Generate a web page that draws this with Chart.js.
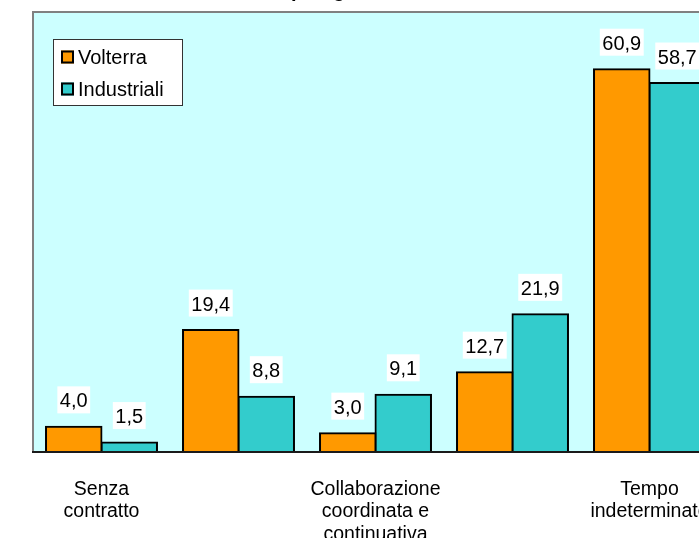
<!DOCTYPE html>
<html>
<head>
<meta charset="utf-8">
<script src="https://cdn.jsdelivr.net/npm/chart.js@4.4.1/dist/chart.umd.min.js"></script>
<style>
  html, body { margin: 0; padding: 0; background: #fff; overflow: hidden; }
  #wrap { position: relative; width: 699px; height: 538px; overflow: hidden; background: #fff; }
  #chart { position: absolute; left: 0; top: -24px; }
</style>
</head>
<body>
<div id="wrap"><canvas id="chart" width="752" height="562"></canvas></div>
<script>
// ---- data ----
const titleText = 'Tipologia di contratto'
const categories = [
  ['Senza', 'contratto'],
  ['Tempo', 'determinato'],
  ['Collaborazione', 'coordinata e', 'continuativa'],
  ['Apprendistato'],
  ['Tempo', 'indeterminato'],
]
const volterra = [4.0, 19.4, 3.0, 12.7, 60.9]
const industriali = [1.5, 8.8, 9.1, 21.9, 58.7]
const seriesNames = ['Volterra', 'Industriali']

const FONT = '"Liberation Sans", Arial, sans-serif'
Chart.defaults.font.family = FONT
Chart.defaults.color = '#000'

// ---- plugins ----
const plotFrame = {
  id: 'plotFrame',
  beforeDatasetsDraw(chart) {
    const { ctx, chartArea: a } = chart
    ctx.save()
    ctx.fillStyle = '#CCFFFF'
    ctx.fillRect(a.left, a.top, a.right - a.left, a.bottom - a.top)
    ctx.strokeStyle = '#808080'
    ctx.lineWidth = 2
    ctx.beginPath()
    ctx.moveTo(a.left, a.bottom)
    ctx.lineTo(a.left, a.top)
    ctx.lineTo(a.right, a.top)
    ctx.lineTo(a.right, a.bottom)
    ctx.stroke()
    ctx.restore()
  },
  afterDatasetsDraw(chart) {
    const { ctx, chartArea: a } = chart
    ctx.save()
    ctx.strokeStyle = '#1a1a1a'
    ctx.lineWidth = 2
    ctx.beginPath()
    ctx.moveTo(a.left - 1, a.bottom)
    ctx.lineTo(a.right + 1, a.bottom)
    ctx.stroke()
    ctx.restore()
  },
}

const valueLabels = {
  id: 'valueLabels',
  afterDatasetsDraw(chart) {
    const { ctx } = chart
    ctx.save()
    ctx.font = '20px ' + FONT
    ctx.textAlign = 'center'
    ctx.textBaseline = 'alphabetic'
    chart.data.datasets.forEach((ds, i) => {
      chart.getDatasetMeta(i).data.forEach((bar, j) => {
        const txt = ds.data[j].toFixed(1).replace('.', ',')
        const w = ctx.measureText(txt).width + 5
        const bottom = bar.y - 13.5
        ctx.fillStyle = '#fff'
        ctx.fillRect(bar.x - w / 2, bottom - 27, w, 27)
        ctx.fillStyle = '#000'
        ctx.fillText(txt, bar.x, bar.y - 19.5)
      })
    })
    ctx.restore()
  },
}

const boxLegend = {
  id: 'boxLegend',
  afterDraw(chart) {
    const { ctx } = chart
    const x = 53, y = 63, w = 130, h = 67
    ctx.save()
    ctx.fillStyle = '#fff'
    ctx.fillRect(x, y, w, h)
    ctx.strokeStyle = '#333'
    ctx.lineWidth = 1
    ctx.strokeRect(x + 0.5, y + 0.5, w - 1, h - 1)
    ctx.font = '20px ' + FONT
    ctx.textBaseline = 'middle'
    chart.data.datasets.forEach((ds, i) => {
      const cy = y + 18 + i * 32
      ctx.fillStyle = ds.backgroundColor
      ctx.fillRect(x + 8, cy - 6.5, 13, 13)
      ctx.strokeStyle = '#000'
      ctx.lineWidth = 2
      ctx.strokeRect(x + 9, cy - 5.5, 11, 11)
      ctx.fillStyle = '#000'
      ctx.fillText(ds.label, x + 25, cy + 1)
    })
    ctx.restore()
  },
}

// ---- chart ----
new Chart(document.getElementById('chart').getContext('2d'), {
  type: 'bar',
  data: {
    labels: categories,
    datasets: [
      {
        label: seriesNames[0],
        data: volterra,
        backgroundColor: '#FF9900',
        borderColor: '#000',
        borderWidth: 2,
        borderSkipped: false,
        inflateAmount: 1,
      },
      {
        label: seriesNames[1],
        data: industriali,
        backgroundColor: '#33CCCC',
        borderColor: '#000',
        borderWidth: 2,
        borderSkipped: false,
        inflateAmount: 1,
      },
    ],
  },
  options: {
    responsive: false,
    animation: false,
    datasets: { bar: { categoryPercentage: 0.81, barPercentage: 1 } },
    layout: { padding: { left: 33, right: 34, top: 0, bottom: 0 } },
    plugins: {
      legend: { display: false },
      tooltip: { enabled: false },
      title: {
        display: true,
        text: titleText,
        color: '#000',
        font: { size: 20, weight: 'bold' },
        padding: { top: 3, bottom: 9 },
      },
    },
    scales: {
      x: {
        grid: { display: false },
        border: { display: false },
        ticks: {
          autoSkip: false,
          maxRotation: 0,
          minRotation: 0,
          padding: 17.8,
          color: '#000',
          font: { size: 19.5, lineHeight: 1.165 },
          callback: (value, index) => (index % 2 === 0 ? categories[index] : ''),
        },
        afterFit(scale) {
          scale.height = 86
        },
      },
      y: { display: false, min: 0, max: 70 },
    },
  },
  plugins: [plotFrame, valueLabels, boxLegend],
})
</script>
</body>
</html>
